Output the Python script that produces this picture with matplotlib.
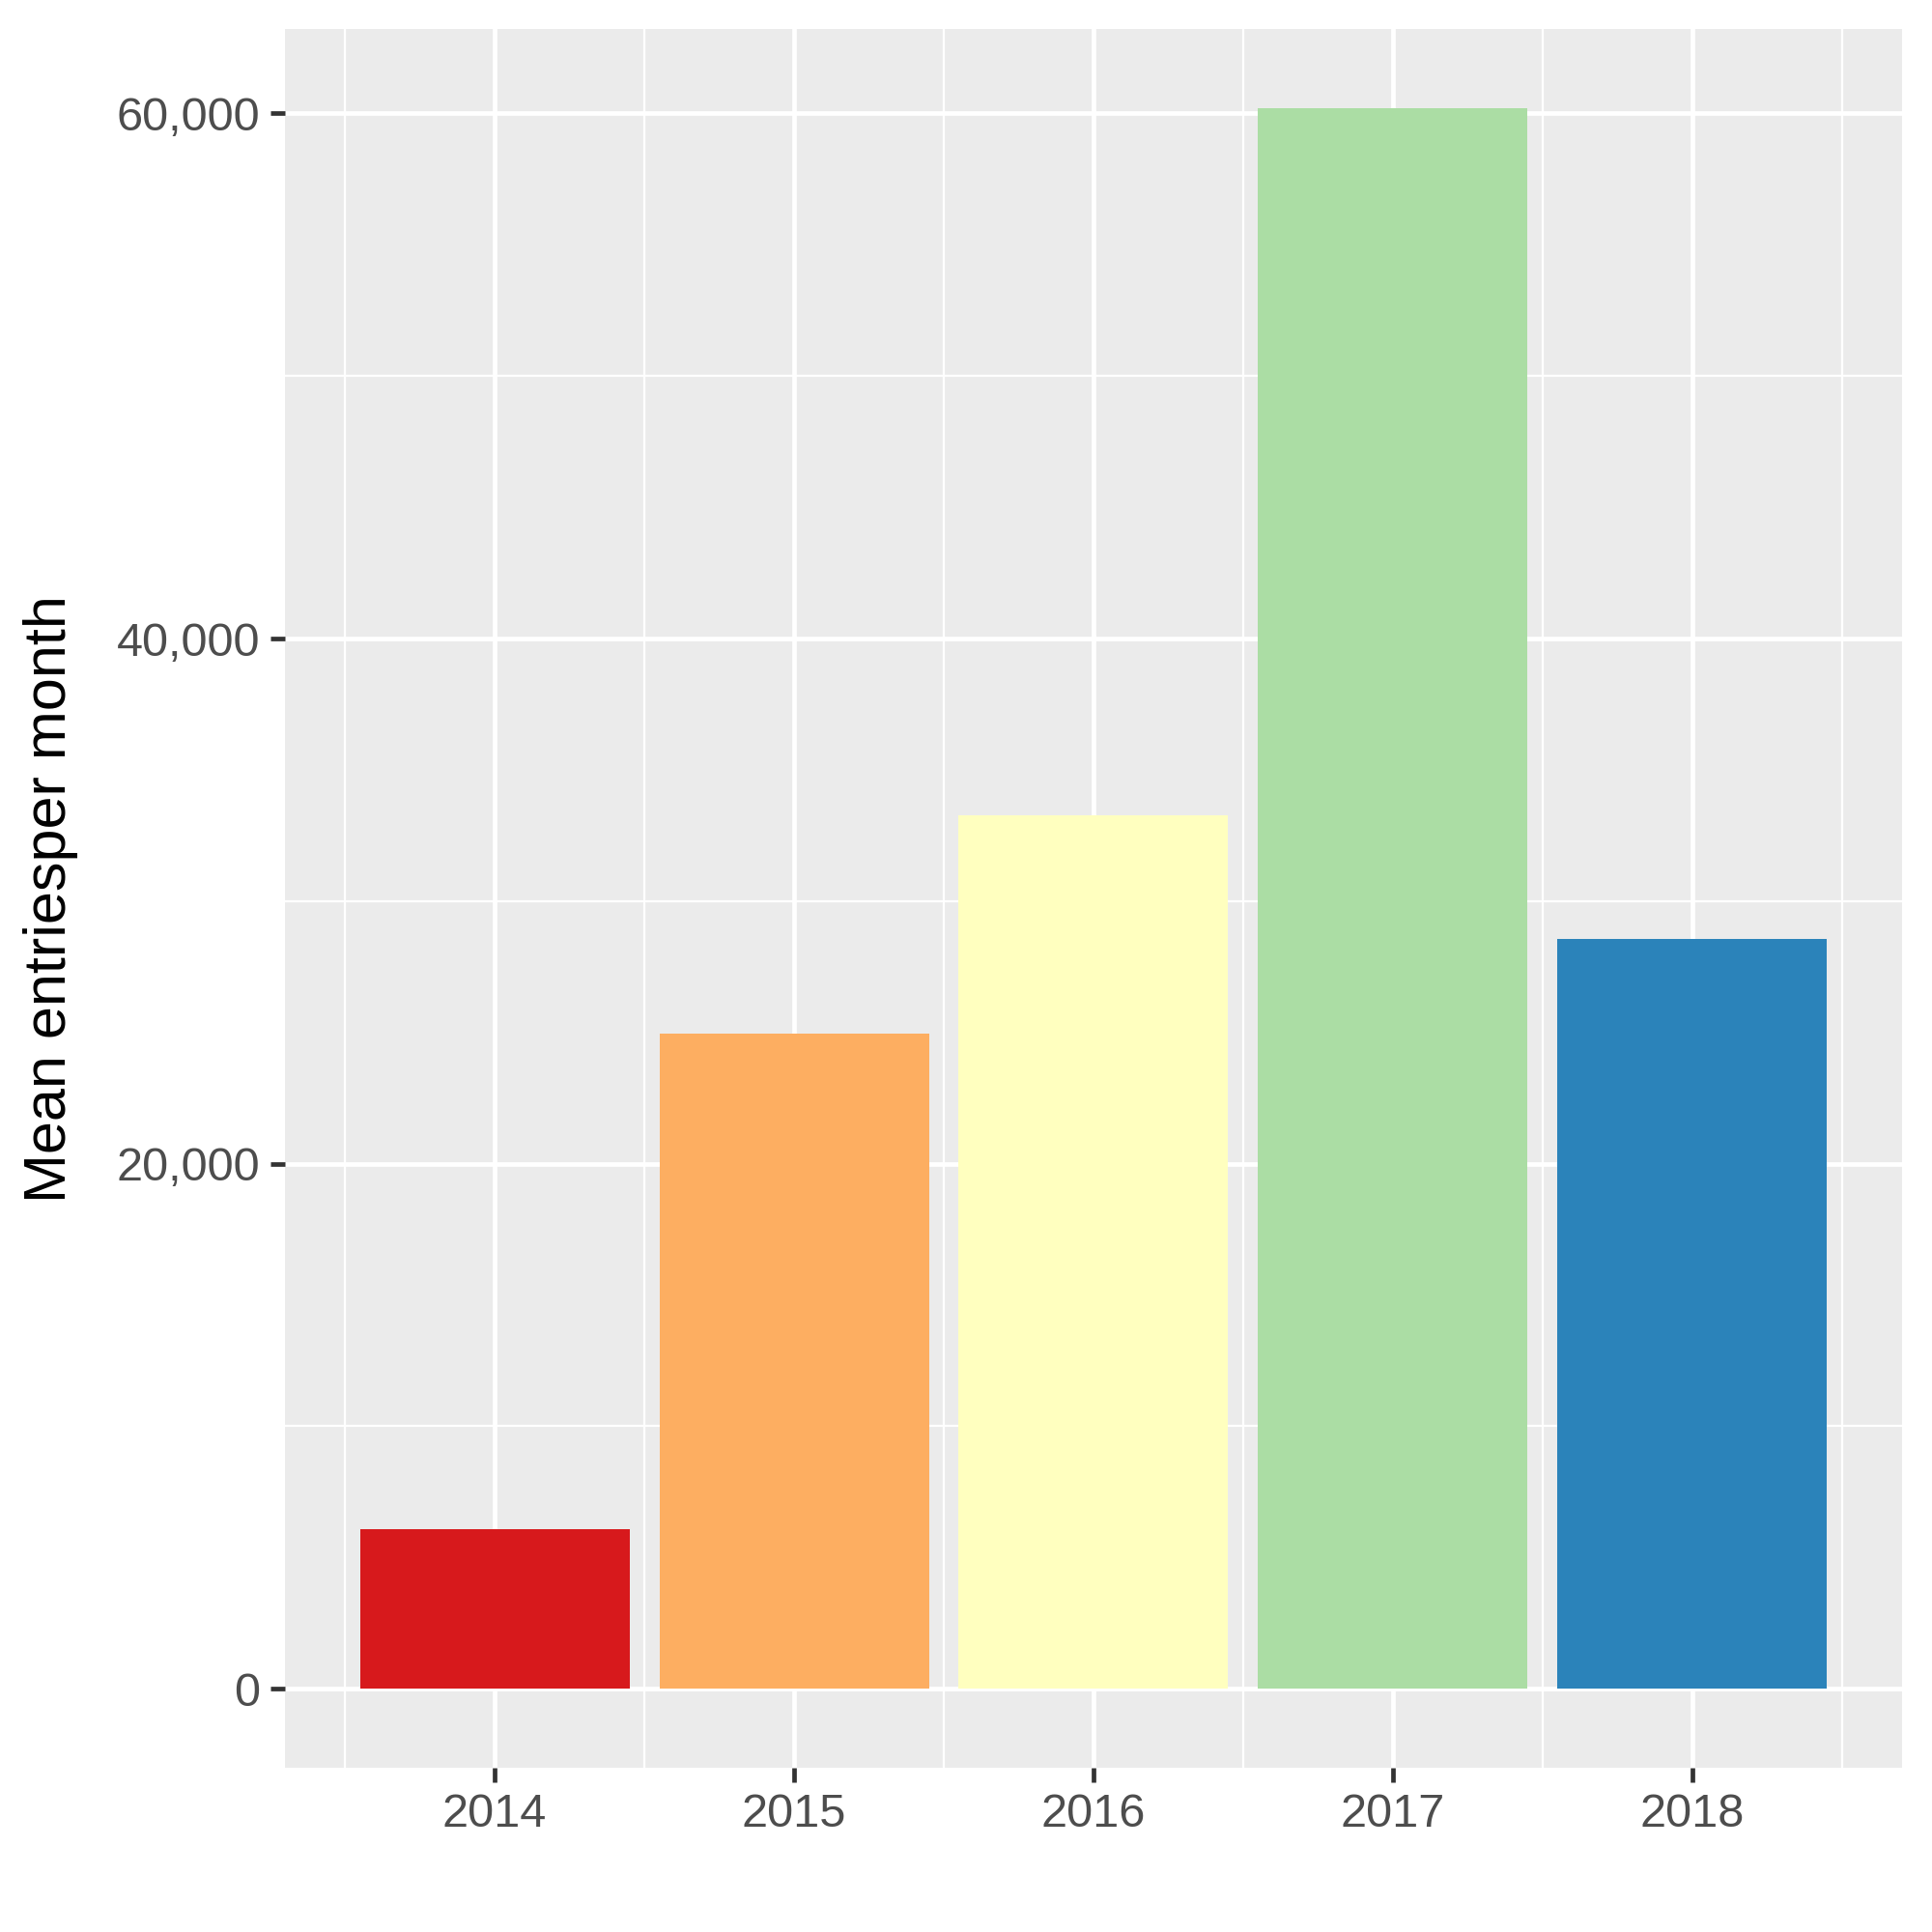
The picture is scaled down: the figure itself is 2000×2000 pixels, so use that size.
import matplotlib
matplotlib.use("Agg")
import matplotlib.pyplot as plt
from matplotlib.ticker import FuncFormatter, MultipleLocator, FixedLocator

plt.rcParams["font.family"] = ["Liberation Sans", "DejaVu Sans"]

years = ["2014", "2015", "2016", "2017", "2018"]
mean_entries = [6080, 24950, 33270, 60195, 28560]
colours = ["#D7191C", "#FDAE61", "#FFFFBF", "#ABDDA4", "#2B83BA"]

fig = plt.figure(figsize=(10, 10), dpi=200)
ax = fig.add_axes([0.1475, 0.085, 0.837, 0.8998])
ax.set_facecolor("#EBEBEB")

pos = range(1, len(years) + 1)
ax.bar(pos, mean_entries, width=0.9, color=colours, zorder=3)

ax.set_xlim(0.3, 5.7)
top = max(mean_entries)
ax.set_ylim(-0.05 * top, 1.05 * top)

ax.xaxis.set_major_locator(FixedLocator(list(pos)))
ax.set_xticklabels(years)
ax.xaxis.set_minor_locator(FixedLocator([p - 0.5 for p in pos] + [5.5]))
ax.yaxis.set_major_locator(MultipleLocator(20000))
ax.yaxis.set_minor_locator(MultipleLocator(10000))
ax.yaxis.set_major_formatter(FuncFormatter(lambda v, p: f"{int(v):,}"))

ax.grid(which="major", color="white", linewidth=1.7, zorder=1)
ax.grid(which="minor", color="white", linewidth=0.8, zorder=1)
ax.set_axisbelow(True)
for s in ax.spines.values():
    s.set_visible(False)

ax.tick_params(which="major", length=5.4, width=1.7, color="#333333",
               labelcolor="#4D4D4D", labelsize=17.5, pad=4)
ax.tick_params(which="minor", length=0)

ax.set_ylabel("Mean entriesper month", fontsize=22, color="black", labelpad=14)

fig.savefig("out.png", dpi=200, facecolor="white")
